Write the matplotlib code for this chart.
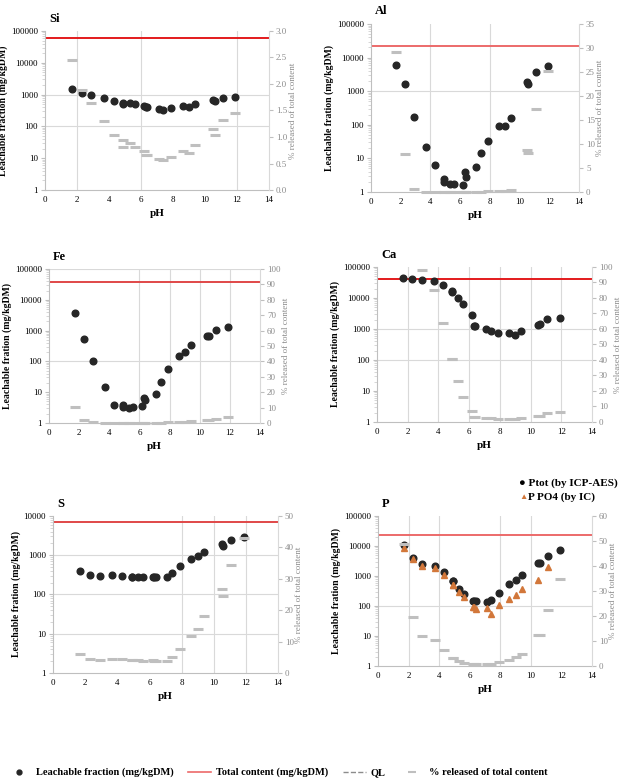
import numpy as np
import matplotlib
matplotlib.use('Agg')
import matplotlib.pyplot as plt
from matplotlib.lines import Line2D

plt.rcParams['font.family'] = ['Liberation Serif', 'DejaVu Serif']

nan = np.nan

# pH of each leaching step (shared by all elements)
ph = [1.7, 2.3, 2.9, 3.7, 4.3, 4.9, 4.9, 5.3, 5.6, 6.2, 6.3, 6.4,
      7.1, 7.4, 7.9, 8.6, 9.0, 9.4, 10.5, 10.6, 11.1, 11.9]

# leachable fraction (mg/kgDM)
si_leach = [1450, 1100, 950, 760, 640, 560, 490, 560, 490, 440, 420, 400,
            350, 335, 370, 440, 410, 490, 700, 630, 760, 830]
al_leach = [6000, 1650, 175, 22, 6.4, 2.4, 2.0, 1.7, 1.7, 1.6, 3.9, 2.8,
            5.7, 14.7, 32, 92, 92, 155, 1850, 1650, 3700, 5500]
fe_leach = [3600, 550, 104, 15, 3.8, 3.7, 3.4, 3.0, 3.4, 3.5, 6.5, 5.5,
            9, 22, 55, 155, 195, 330, 660, 660, 1040, 1300]
ca_leach = [45500, 40000, 39000, 34000, 26000, 16500, 15500, 10300, 6300, 2800, 1240, 1220,
            1020, 860, 740, 750, 650, 880, 1300, 1480, 2030, 2250]
s_leach = [405, 315, 290, 315, 290, 280, 280, 285, 280, 285, 285, 280,
           280, 360, 535, 790, 960, 1240, 1900, 1720, 2400, 2870]
p_leach = [10500, 4100, 2450, 2100, 1390, 680, 680, 380, 245, 145, 145, 145,
           135, 158, 270, 530, 740, 1080, 2650, 2650, 4800, 7600]
p_po4 = [8800, 3800, 2100, 1850, 1100, 520, 520, 300, 200, 95, 90, 82,
         85, 55, 108, 167, 228, 380, 760, nan, 2000, nan]

# % released of total content
si_pct = [2.45, 1.88, 1.65, 1.30, 1.04, 0.95, 0.81, 0.88, 0.82, 0.74, 0.67, 0.66,
          0.58, 0.57, 0.63, 0.74, 0.69, 0.84, 1.16, 1.03, 1.32, 1.45]
al_pct = [29.1, 7.9, 0.7, 0.1, 0.05, 0.05, 0.05, 0.05, 0.05, 0.05, 0.05, 0.05,
          0.05, 0.1, 0.2, 0.2, 0.2, 0.5, 8.7, 8.1, 17.2, 25.2]
fe_pct = [10.2, 1.7, 0.6, 0.2, 0.2, 0.2, 0.2, 0.2, 0.2, 0.2, 0.2, 0.2,
          0.2, 0.3, 0.6, 0.6, 0.7, 1.1, 2.0, 2.0, 2.8, 4.1]
ca_pct = [nan, nan, 98, 85.2, 64, 40.9, 40.9, 26.5, 16.3, 7.1, 3.2, 3.2,
          2.8, 2.4, 1.9, 1.9, 1.7, 2.4, 3.9, 3.9, 5.6, 6.2]
s_pct = [5.9, 4.5, 4.2, 4.5, 4.5, 4.0, 4.0, 4.1, 3.9, 4.0, 3.9, 3.9,
         3.9, 5.2, 7.7, 11.7, 14.1, 18.2, 26.8, 24.5, 34.3, 43.1]
p_pct = [48.9, 19.5, 11.9, 10.3, 6.5, 3.3, 3.3, 1.9, 1.1, 0.8, 0.8, 0.8,
         0.7, 0.9, 1.5, 2.5, 3.6, 4.9, 12.3, 12.3, 22.3, 34.7]

# total content (mg/kgDM)
totals = {'Si': 62000, 'Al': 21500, 'Fe': 37000, 'Ca': 40000, 'S': 6900, 'P': 23000}

DOT = '#262626'
GREY = '#bfbfbf'
ORANGE = '#d2773a'
GRID = '#d9d9d9'

panels = [
    # name, leach, pct, axes rect, y top, right max, right step, grid x, grid y, red colour
    ('Si', si_leach, si_pct, [0.0722, 0.757, 0.3596, 0.2034], 1e5, 3.0, 0.5, [2, 6, 12], [100, 1000], '#e31a1c'),
    ('Al', al_leach, al_pct, [0.5955, 0.7545, 0.3339, 0.2148], 1e5, 35, 5, [4, 8], [1000], '#ec6a6a'),
    ('Fe', fe_leach, fe_pct, [0.0787, 0.4591, 0.3386, 0.1969], 1e5, 100, 10, [6, 8, 10, 12], [100, 1e5], '#e04848'),
    ('Ca', ca_leach, ca_pct, [0.6051, 0.4604, 0.3451, 0.1982], 1e5, 100, 10, [2, 4, 6, 8, 10, 12], [100, 1000], '#e31a1c'),
    ('S', s_leach, s_pct, [0.0851, 0.1394, 0.3611, 0.2008], 1e4, 50, 10, [8, 10, 12], [10, 100, 1000], '#e04848'),
    ('P', p_leach, p_pct, [0.6067, 0.1483, 0.3435, 0.1919], 1e5, 60, 10, [2, 4, 8, 10], [100], '#ec6a6a'),
]

fig = plt.figure(figsize=(6.23, 7.82), dpi=100)

for name, leach, pct, rect, ytop, rmax, rstep, gx, gy, red in panels:
    ax = fig.add_axes(rect)
    ax.set_yscale('log')
    ax.set_xlim(0, 14)
    ax.set_ylim(1, ytop)
    for v in gx:
        ax.axvline(v, color=GRID, lw=0.8, zorder=0)
    for v in gy:
        ax.axhline(v, color=GRID, lw=0.8, zorder=0)
    ax.axhline(totals[name], color=red, lw=1.4, zorder=2)
    ax.plot(ph, leach, 'o', color=DOT, ms=4.8, zorder=5, clip_on=False)
    if name == 'P':
        ax.plot(ph, p_po4, '^', color=ORANGE, ms=4.6, zorder=6)
    ax.set_xticks(range(0, 15, 2))
    yt = [10 ** k for k in range(int(np.log10(ytop)) + 1)]
    ax.set_yticks(yt)
    ax.set_yticklabels([f'{int(v)}' for v in yt])
    ax.tick_params(axis='both', labelsize=6.5, length=3, color='#bfbfbf', pad=2)
    ax.tick_params(axis='y', which='minor', length=2, color='#d0d0d0')
    ax.tick_params(axis='x', length=0, pad=4)
    for sp in ['top', 'right']:
        ax.spines[sp].set_visible(False)
    ax.spines['left'].set_color('#bfbfbf')
    ax.spines['bottom'].set_color('#bfbfbf')
    ax.set_xlabel('pH', fontsize=8, fontweight='bold', labelpad=4)
    ax.set_ylabel('Leachable fration (mg/kgDM)' if name != 'Si' else 'Leachable fraction (mg/kgDM)',
                  fontsize=7, fontweight='bold', labelpad=2)
    ax.text(0.02, 1.04, name, transform=ax.transAxes, fontsize=9, fontweight='bold',
            ha='left', va='bottom')

    ax2 = ax.twinx()
    ax2.set_ylim(0, rmax)
    ax2.plot(ph, pct, '_', color=GREY, ms=7, mew=2.2, zorder=4, clip_on=False)
    ticks = np.arange(0, rmax + rstep / 2, rstep)
    ax2.set_yticks(ticks)
    if rstep < 1:
        ax2.set_yticklabels([f'{t:.1f}' for t in ticks])
    else:
        ax2.set_yticklabels([f'{int(t)}' for t in ticks])
    ax2.tick_params(axis='y', labelsize=6.5, length=3, color='#bfbfbf', labelcolor='#8c8c8c', pad=2)
    for sp in ['top', 'left', 'bottom']:
        ax2.spines[sp].set_visible(False)
    ax2.spines['right'].set_color('#d9d9d9')
    ax2.set_ylabel('% released of total content', fontsize=6.5, color='#8c8c8c', labelpad=1)

# legend for the P panel
fig.text(0.833, 0.382, '\u25cf Ptot (by ICP-AES)', fontsize=8, fontweight='bold', ha='left',
         va='center', color='black')
fig.text(0.833, 0.364, '\u25b2', fontsize=6, color=ORANGE, ha='left', va='center')
fig.text(0.848, 0.364, 'P PO4 (by IC)', fontsize=8, fontweight='bold', ha='left', va='center')

# bottom legend
handles = [
    Line2D([], [], ls='none', marker='o', color=DOT, ms=3.5),
    Line2D([], [], color='#ec6a6a', lw=1.2),
    Line2D([], [], color='#8c8c8c', lw=1, ls='--'),
    Line2D([], [], ls='none', marker='_', color=GREY, ms=6, mew=1.5),
]
labels = ['Leachable fraction (mg/kgDM)', 'Total content (mg/kgDM)', 'QL',
          '% released of total content']
fig.legend(handles, labels, loc='center', bbox_to_anchor=(0.445, 0.012), ncol=4, frameon=False,
           prop={'size': 7.5, 'weight': 'bold'}, handlelength=2.2, columnspacing=1.4,
           handletextpad=0.5)

fig.savefig('out.png', dpi=100)
